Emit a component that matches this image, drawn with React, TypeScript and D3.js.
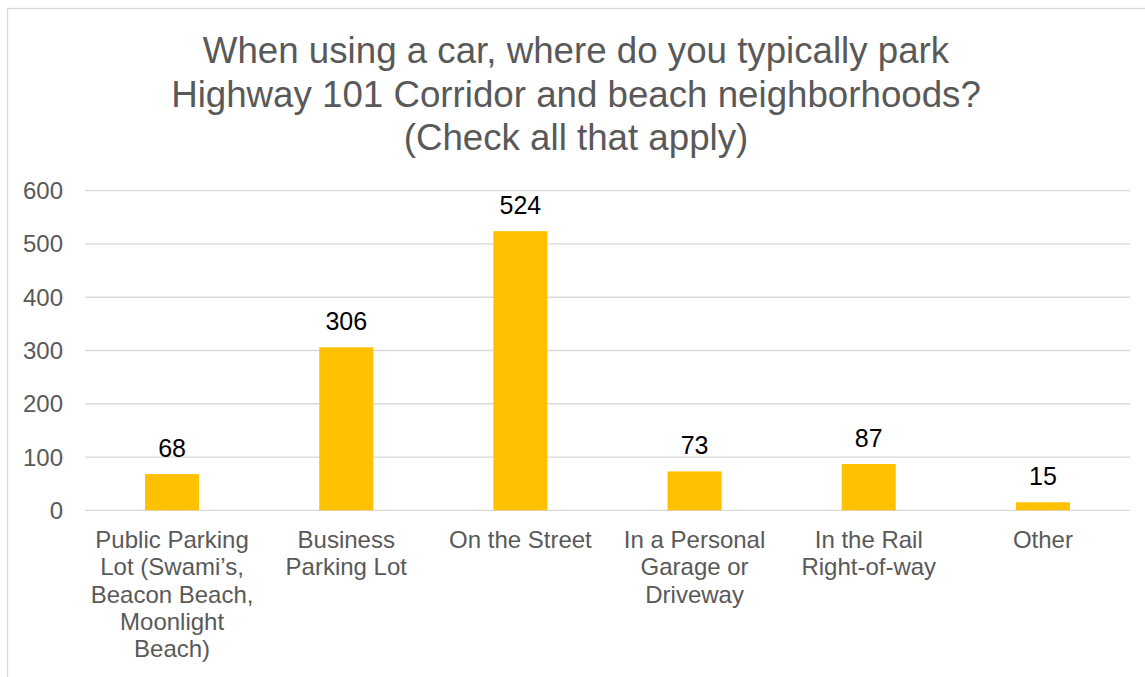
import * as d3 from "d3";

const categories = [
  "Public Parking\nLot (Swami’s,\nBeacon Beach,\nMoonlight\nBeach)",
  "Business\nParking Lot",
  "On the Street",
  "In a Personal\nGarage or\nDriveway",
  "In the Rail\nRight-of-way",
  "Other",
];
const counts = [68, 306, 524, 73, 87, 15];
const yTicks = [0, 100, 200, 300, 400, 500, 600];
const titleLines = [
  "When using a car, where do you typically park",
  "Highway 101 Corridor and beach neighborhoods?",
  "(Check all that apply)",
];

const W = 1145;
const H = 677;
const font = "'Liberation Sans', Arial, sans-serif";

export default function App() {
  // plot area
  const left = 85;
  const right = 1130;
  const top = 190.7;
  const bottom = 510.3;

  const x = d3
    .scaleBand<number>()
    .domain(d3.range(categories.length))
    .range([left, right])
    .paddingInner(0.69)
    .paddingOuter(0.345);

  const y = d3.scaleLinear().domain([0, 600]).range([bottom, top]);

  return (
    <svg
      width={W}
      height={H}
      style={{ position: "absolute", left: 0, top: 0 }}
      fontFamily={font}
    >
      <rect x={0} y={0} width={W} height={H} fill="#fff" />
      {/* chart border, right & bottom edges run off the page */}
      <rect x={7.5} y={8.5} width={W + 10} height={H + 10} fill="none" stroke="#d9d9d9" strokeWidth={1.3} />

      {titleLines.map((t, i) => (
        <text key={i} x={576} y={63 + i * 43.5} textAnchor="middle" fontSize={36.7} fill="#595959">
          {t}
        </text>
      ))}

      {yTicks.map((t) => (
        <g key={t}>
          <line x1={left} x2={right} y1={y(t)} y2={y(t)} stroke="#d9d9d9" strokeWidth={1.3} />
          <text x={63} y={y(t) + 8.5} textAnchor="end" fontSize={24} fill="#595959">
            {t}
          </text>
        </g>
      ))}

      {counts.map((v, i) => (
        <g key={i}>
          <rect x={x(i)} y={y(v)} width={x.bandwidth()} height={y(0) - y(v)} fill="#FFC000" />
          <text
            x={(x(i) as number) + x.bandwidth() / 2}
            y={y(v) - 17}
            textAnchor="middle"
            fontSize={25}
            fill="#000"
          >
            {v}
          </text>
        </g>
      ))}

      {categories.map((c, i) => (
        <text
          key={i}
          x={(x(i) as number) + x.bandwidth() / 2}
          y={548}
          textAnchor="middle"
          fontSize={24}
          fill="#595959"
        >
          {c.split("\n").map((ln, j) => (
            <tspan key={j} x={(x(i) as number) + x.bandwidth() / 2} dy={j === 0 ? 0 : 27.3}>
              {ln}
            </tspan>
          ))}
        </text>
      ))}
    </svg>
  );
}
